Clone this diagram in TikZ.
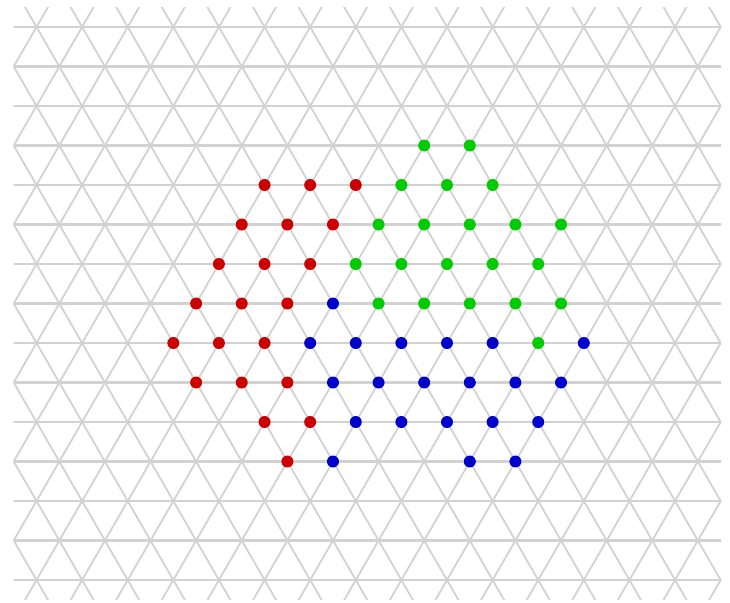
\documentclass[tikz,border=0pt]{standalone}
\begin{document}
\begin{tikzpicture}[x=1pt,y=-1pt,
  gridline/.style={draw={rgb,255:red,210;green,210;blue,210}, line width=1.8pt},
  hline/.style={gridline, line width=2.2pt},
  dot/.style={circle, inner sep=0pt, minimum size=12pt, draw=none},
  reddot/.style={dot, fill={rgb,255:red,204;green,0;blue,0}},
  greendot/.style={dot, fill={rgb,255:red,0;green,204;blue,0}},
  bluedot/.style={dot, fill={rgb,255:red,0;green,0;blue,204}}]
\useasboundingbox (0,0) rectangle (730,602);
\def\ax{22.805}
\def\ay{39.5}
\begin{scope}
  \clip (13.7,7.25) rectangle (721,599.75);
  \foreach \m in {-35,-33,...,35}
    \draw[gridline] ({36.5+\ax*\m},{27-\ay}) -- ({36.5+\ax*(\m+16)},{27+\ay*15});
  \foreach \m in {-1,1,...,51}
    \draw[gridline] ({36.5+\ax*\m},{27-\ay}) -- ({36.5+\ax*(\m-16)},{27+\ay*15});
  \foreach \j in {0,...,14}
    \draw[hline] (0,{27+\ay*\j}) -- (730,{27+\ay*\j});
\end{scope}
% red dots
\foreach \m/\j [count=\i] in {10/4,12/4,14/4, 9/5,11/5,13/5, 8/6,10/6,12/6, 7/7,9/7,11/7,
  6/8,8/8,10/8, 7/9,9/9,11/9, 10/10,12/10, 11/11}
  \node[reddot] (r\i) at ({36.5+\ax*\m},{27+\ay*\j}) {};
% green dots
\foreach \m/\j [count=\i] in {17/3,19/3, 16/4,18/4,20/4, 15/5,17/5,19/5,21/5,23/5,
  14/6,16/6,18/6,20/6,22/6, 15/7,17/7,19/7,21/7,23/7, 22/8}
  \node[greendot] (g\i) at ({36.5+\ax*\m},{27+\ay*\j}) {};
% blue dots
\foreach \m/\j [count=\i] in {13/7, 12/8,14/8,16/8,18/8,20/8,24/8,
  13/9,15/9,17/9,19/9,21/9,23/9, 14/10,16/10,18/10,20/10,22/10, 13/11,19/11,21/11}
  \node[bluedot] (b\i) at ({36.5+\ax*\m},{27+\ay*\j}) {};
\end{tikzpicture}
\end{document}
